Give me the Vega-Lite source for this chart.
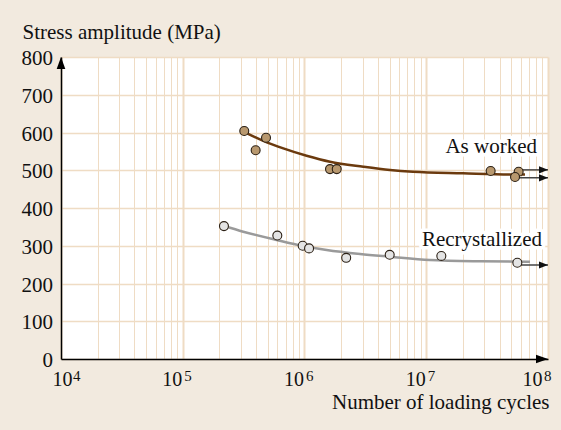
{
  "$schema": "https://vega.github.io/schema/vega-lite/v6.json",
  "width": 487,
  "height": 302,
  "autosize": {"type": "none"},
  "padding": {"left": 61, "top": 57, "right": 13, "bottom": 71},
  "background": "#f2eadf",
  "config": {
    "view": {"fill": "#ffffff", "stroke": null},
    "font": "Liberation Serif",
    "axis": {"labelFont": "Liberation Serif", "titleFont": "Liberation Serif", "labelOverlap": false, "labelColor": "#111111"},
    "text": {"font": "Liberation Serif"}
  },
  "datasets": {
    "curves": [
      {"series": "As worked", "n": 318000, "s": 602},
      {"series": "As worked", "n": 459000, "s": 578},
      {"series": "As worked", "n": 670000, "s": 558},
      {"series": "As worked", "n": 1040000, "s": 538.5},
      {"series": "As worked", "n": 1620000, "s": 522.6},
      {"series": "As worked", "n": 3040000, "s": 509.4},
      {"series": "As worked", "n": 5040000, "s": 500.7},
      {"series": "As worked", "n": 7780000, "s": 496},
      {"series": "As worked", "n": 20000000, "s": 492},
      {"series": "As worked", "n": 51600000, "s": 489},
      {"series": "As worked", "n": 64700000, "s": 489},
      {"series": "Recrystallized", "n": 218000, "s": 352.3},
      {"series": "Recrystallized", "n": 314000, "s": 337.2},
      {"series": "Recrystallized", "n": 591000, "s": 315.2},
      {"series": "Recrystallized", "n": 977000, "s": 299.3},
      {"series": "Recrystallized", "n": 1520000, "s": 288.7},
      {"series": "Recrystallized", "n": 2860000, "s": 278.1},
      {"series": "Recrystallized", "n": 5040000, "s": 271},
      {"series": "Recrystallized", "n": 10700000, "s": 262.3},
      {"series": "Recrystallized", "n": 27600000, "s": 258.8},
      {"series": "Recrystallized", "n": 71100000, "s": 257.7}
    ],
    "tests": [
      {"series": "As worked", "n": 320000, "s": 604},
      {"series": "As worked", "n": 397000, "s": 553},
      {"series": "As worked", "n": 483000, "s": 586},
      {"series": "As worked", "n": 1620000, "s": 503},
      {"series": "As worked", "n": 1840000, "s": 503},
      {"series": "As worked", "n": 33800000, "s": 498},
      {"series": "As worked", "n": 57400000, "s": 496},
      {"series": "As worked", "n": 53600000, "s": 482},
      {"series": "Recrystallized", "n": 218000, "s": 352},
      {"series": "Recrystallized", "n": 598000, "s": 327},
      {"series": "Recrystallized", "n": 966000, "s": 300},
      {"series": "Recrystallized", "n": 1090000, "s": 293},
      {"series": "Recrystallized", "n": 2200000, "s": 268},
      {"series": "Recrystallized", "n": 5010000, "s": 276},
      {"series": "Recrystallized", "n": 13300000, "s": 273},
      {"series": "Recrystallized", "n": 56000000, "s": 255}
    ],
    "runouts": [
      {"series": "As worked", "n": 57400000, "n2": 100000000, "s": 501},
      {"series": "As worked", "n": 53600000, "n2": 100000000, "s": 480},
      {"series": "Recrystallized", "n": 56000000, "n2": 100000000, "s": 249}
    ],
    "labels": [
      {"series": "As worked", "n": 81200000, "s": 546.5, "text": "As worked"},
      {"series": "Recrystallized", "n": 89300000, "s": 299, "text": "Recrystallized"}
    ],
    "decades": [
      {"n": 10000, "s": 0, "e": "4"},
      {"n": 100000, "s": 0, "e": "5"},
      {"n": 1000000, "s": 0, "e": "6"},
      {"n": 10000000, "s": 0, "e": "7"},
      {"n": 100000000, "s": 0, "e": "8"}
    ],
    "stressTicks": [
      {"n": 10000, "s": 0, "label": "0"},
      {"n": 10000, "s": 100, "label": "100"},
      {"n": 10000, "s": 200, "label": "200"},
      {"n": 10000, "s": 300, "label": "300"},
      {"n": 10000, "s": 400, "label": "400"},
      {"n": 10000, "s": 500, "label": "500"},
      {"n": 10000, "s": 600, "label": "600"},
      {"n": 10000, "s": 700, "label": "700"},
      {"n": 10000, "s": 800, "label": "800"}
    ],
    "axisTips": [
      {"axis": "y", "n": 10000, "s": 800},
      {"axis": "x", "n": 100000000, "s": 0}
    ]
  },
  "encoding": {
    "x": {
      "field": "n",
      "type": "quantitative",
      "scale": {"type": "log", "domain": [10000, 100000000]},
      "axis": {
        "title": "Number of loading cycles",
        "titleX": 488,
        "titleY": 49,
        "titleAlign": "right",
        "titleBaseline": "alphabetic",
        "titleFontSize": 21,
        "titleFontWeight": "normal",
        "titleColor": "#111111",
        "values": [10000, 20000, 30000, 40000, 50000, 60000, 70000, 80000, 90000,
                   100000, 200000, 300000, 400000, 500000, 600000, 700000, 800000, 900000,
                   1000000, 2000000, 3000000, 4000000, 5000000, 6000000, 7000000, 8000000, 9000000,
                   10000000, 20000000, 30000000, 40000000, 50000000, 60000000, 70000000, 80000000, 90000000,
                   100000000],
        "labelExpr": "abs(log(datum.value) / LN10 - round(log(datum.value) / LN10)) < 0.001 ? '10' : ''",
        "labelAlign": "right",
        "labelBaseline": "alphabetic",
        "labelPadding": 26,
        "labelFontSize": 20,
        "labelColor": "#111111",
        "labelOverlap": false,
        "labelFlush": false,
        "labelBound": false,
        "labelOffset": {"condition": [
          {"test": "datum.value < 15000", "value": 11},
          {"test": "datum.value > 50000000", "value": -6}
        ], "value": -1},
        "ticks": false,
        "domainColor": "#000000",
        "domainWidth": 1.5,
        "grid": true,
        "gridColor": "#efdcc4",
        "gridOpacity": 1,
        "gridWidth": {"condition": {"test": "abs(log(datum.value) / LN10 - round(log(datum.value) / LN10)) < 0.001", "value": 2}, "value": 1}
      }
    },
    "y": {
      "field": "s",
      "type": "quantitative",
      "scale": {"domain": [0, 800]},
      "axis": {
        "title": "Stress amplitude (MPa)",
        "titleAngle": 0,
        "titleX": -39,
        "titleY": -18.5,
        "titleAlign": "left",
        "titleBaseline": "alphabetic",
        "titleFontSize": 21,
        "titleFontWeight": "normal",
        "titleColor": "#111111",
        "values": [0, 100, 200, 300, 400, 500, 600, 700, 800],
        "labels": false,
        "ticks": false,
        "domainColor": "#000000",
        "domainWidth": 1.5,
        "grid": true,
        "gridColor": "#efdcc4",
        "gridOpacity": 1,
        "gridWidth": 1.5
      }
    }
  },
  "layer": [
    {
      "data": {"name": "labels"},
      "mark": {"type": "text", "align": "right", "baseline": "alphabetic", "fontSize": 21, "fill": "#ffffff", "stroke": "#ffffff", "strokeWidth": 7, "strokeJoin": "round"},
      "encoding": {"text": {"field": "text"}}
    },
    {
      "data": {"name": "curves"},
      "mark": {"type": "line", "strokeWidth": 2.5, "interpolate": "monotone"},
      "encoding": {
        "color": {
          "field": "series",
          "type": "nominal",
          "scale": {"domain": ["As worked", "Recrystallized"], "range": ["#6b3a0e", "#9a9a9a"]},
          "legend": null
        }
      }
    },
    {
      "data": {"name": "runouts"},
      "mark": {"type": "rule", "stroke": "#444444", "strokeWidth": 1.5},
      "encoding": {"x2": {"field": "n2"}}
    },
    {
      "data": {"name": "runouts"},
      "mark": {"type": "point", "shape": "M0,0L-1,-0.4L-1,0.4Z", "size": 324, "filled": true, "fill": "#111111", "opacity": 1, "strokeWidth": 0},
      "encoding": {"x": {"field": "n2", "type": "quantitative"}}
    },
    {
      "data": {"name": "tests"},
      "mark": {"type": "point", "filled": true, "size": 80, "opacity": 1, "stroke": "#2b2015", "strokeWidth": 1.1},
      "encoding": {
        "fill": {
          "field": "series",
          "type": "nominal",
          "scale": {"domain": ["As worked", "Recrystallized"], "range": ["#b8986e", "#e4e4e4"]},
          "legend": null
        }
      }
    },
    {
      "data": {"name": "labels"},
      "mark": {"type": "text", "align": "right", "baseline": "alphabetic", "fontSize": 21, "fill": "#111111"},
      "encoding": {"text": {"field": "text"}}
    },
    {
      "data": {"name": "axisTips"},
      "transform": [{"filter": "datum.axis == 'y'"}],
      "mark": {"type": "point", "shape": "M0,0L0.36,1L-0.36,1Z", "size": 576, "filled": true, "fill": "#000000", "opacity": 1, "strokeWidth": 0, "clip": false}
    },
    {
      "data": {"name": "axisTips"},
      "transform": [{"filter": "datum.axis == 'x'"}],
      "mark": {"type": "point", "shape": "M0,0L-1,-0.36L-1,0.36Z", "size": 576, "filled": true, "fill": "#000000", "opacity": 1, "strokeWidth": 0, "clip": false}
    },
    {
      "data": {"name": "stressTicks"},
      "mark": {"type": "text", "font": "Liberation Serif", "align": "right", "baseline": "middle", "fontSize": 21, "fill": "#111111", "dx": -8, "dy": 2},
      "encoding": {"text": {"field": "label"}}
    },
    {
      "data": {"name": "decades"},
      "transform": [{"filter": "datum.n < 15000"}],
      "mark": {"type": "text", "align": "left", "baseline": "alphabetic", "fontSize": 15, "fill": "#111111", "dx": 12, "dy": 22},
      "encoding": {"text": {"field": "e"}}
    },
    {
      "data": {"name": "decades"},
      "transform": [{"filter": "datum.n > 15000 && datum.n < 50000000"}],
      "mark": {"type": "text", "align": "left", "baseline": "alphabetic", "fontSize": 15, "fill": "#111111", "dx": 1.5, "dy": 22},
      "encoding": {"text": {"field": "e"}}
    },
    {
      "data": {"name": "decades"},
      "transform": [{"filter": "datum.n > 50000000"}],
      "mark": {"type": "text", "align": "left", "baseline": "alphabetic", "fontSize": 15, "fill": "#111111", "dx": -4, "dy": 22},
      "encoding": {"text": {"field": "e"}}
    }
  ]
}
